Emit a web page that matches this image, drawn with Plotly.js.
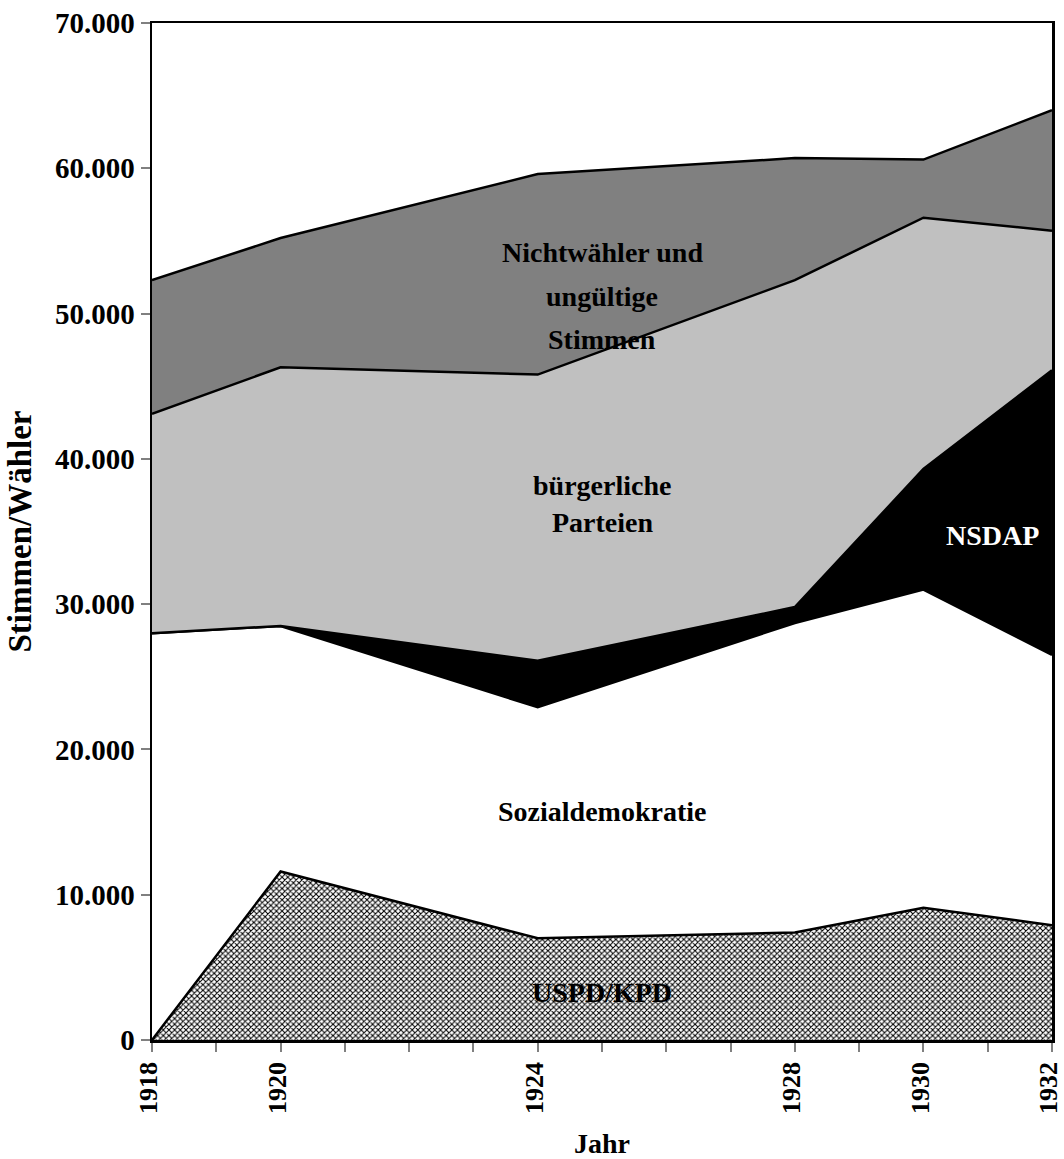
<!DOCTYPE html>
<html>
<head>
<meta charset="utf-8">
<script src="https://cdn.plot.ly/plotly-3.0.1.min.js"></script>
<style>body{margin:0;padding:0;background:#fff}#chart{width:1064px;height:1159px}</style>
</head>
<body>
<div id="chart"></div>
<script>
const years = [1918, 1920, 1924, 1928, 1930, 1932];
const kpd = [0, 11600, 7000, 7400, 9100, 7900];
const spd = [28000, 16900, 15900, 21300, 21900, 18600];
const nsdap = [0, 0, 3200, 1100, 8300, 19600];
const buergerlich = [15100, 17800, 19700, 22500, 17300, 9600];
const nichtwaehler = [9200, 8900, 13800, 8400, 4000, 8300];
const tickYears = [1918,1919,1920,1921,1922,1923,1924,1925,1926,1927,1928,1929,1930,1931,1932];
const tickLabels = ['1918','','1920','','','','1924','','','','1928','','1930','','1932'];

const FONT = 'Liberation Serif, Times New Roman, serif';
const line = {color: '#000', width: 2.5};

const traces = [
  {x: years, y: kpd, name: 'USPD/KPD', stackgroup: 'a', mode: 'lines', line: line,
   fillcolor: '#ffffff', fillpattern: {shape: 'x', size: 4, solidity: 0.45, fgcolor: '#000000', bgcolor: '#ffffff'}},
  {x: years, y: spd, name: 'Sozialdemokratie', stackgroup: 'a', mode: 'lines', line: line, fillcolor: '#ffffff'},
  {x: years, y: nsdap, name: 'NSDAP', stackgroup: 'a', mode: 'lines', line: line, fillcolor: '#000000'},
  {x: years, y: buergerlich, name: 'bürgerliche Parteien', stackgroup: 'a', mode: 'lines', line: line, fillcolor: '#c0c0c0'},
  {x: years, y: nichtwaehler, name: 'Nichtwähler und ungültige Stimmen', stackgroup: 'a', mode: 'lines', line: line, fillcolor: '#808080'}
];

function lab(text, x, y, color) {
  return {x: x, y: y, xref: 'x', yref: 'y', text: '<b>' + text + '</b>', showarrow: false,
          font: {family: FONT, size: 28, color: color || '#000'}};
}

const layout = {
  width: 1064, height: 1159,
  margin: {l: 152, r: 12, t: 23, b: 119},
  paper_bgcolor: '#fff', plot_bgcolor: '#fff',
  showlegend: false,
  separators: ',.',
  font: {family: FONT, size: 28, color: '#000'},
  xaxis: {
    range: [1917.9999, 1932.0001], tickvals: tickYears, ticktext: tickLabels,
    tickangle: -90, ticks: 'outside', ticklen: 9, tickcolor: '#808080', tickwidth: 2,
    showgrid: false, zeroline: false, showline: true, linecolor: '#000', linewidth: 2.5, mirror: true,
    ticklabeloverflow: 'allow', ticklabelshift: -3,
    tickfont: {family: FONT, size: 26, color: '#000', weight: 'bold'},
    title: {text: '<b>Jahr</b>', font: {family: FONT, size: 28}, standoff: 22}
  },
  yaxis: {
    range: [0, 70000], tickvals: [0,10000,20000,30000,40000,50000,60000,70000], tickformat: ',d',
    ticks: 'outside', ticklen: 9, tickcolor: '#808080', tickwidth: 2,
    showgrid: false, zeroline: false, showline: true, linecolor: '#000', linewidth: 2.5, mirror: true,
    tickfont: {family: FONT, size: 29, color: '#000', weight: 'bold'},
    title: {text: '<b>Stimmen/Wähler</b>', font: {family: FONT, size: 33}, standoff: 14}
  },
  annotations: [
    lab('Nichtwähler und', 1925.0, 54200),
    lab('ungültige', 1925.0, 51200),
    lab('Stimmen', 1925.0, 48200),
    lab('bürgerliche', 1925.0, 38200),
    lab('Parteien', 1925.0, 35600),
    lab('NSDAP', 1931.07, 34750, '#fff'),
    lab('Sozialdemokratie', 1925.0, 15750),
    lab('USPD/KPD', 1925.0, 3250)
  ]
};

Plotly.newPlot('chart', traces, layout, {displayModeBar: false, staticPlot: true});
</script>
</body>
</html>
